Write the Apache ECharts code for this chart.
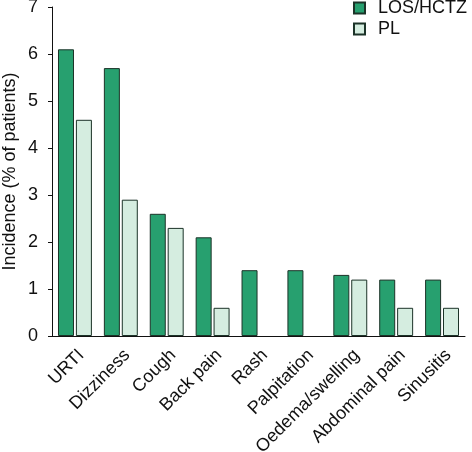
<!DOCTYPE html>
<html>
<head>
<meta charset="utf-8">
<script src="https://cdn.jsdelivr.net/npm/echarts@6/dist/echarts.min.js"></script>
<style>
html, body { margin: 0; padding: 0; background: #fff; }
#main { width: 472px; height: 452px; }
</style>
</head>
<body>
<div id="main"></div>
<script>
// categories and values
var categories = ['URTI', 'Dizziness', 'Cough', 'Back pain', 'Rash', 'Palpitation', 'Oedema/swelling', 'Abdominal pain', 'Sinusitis'];
var losHctz = [6.1, 5.7, 2.6, 2.1, 1.4, 1.4, 1.3, 1.2, 1.2];
var placebo = [4.6, 2.9, 2.3, 0.6, 0, 0, 1.2, 0.6, 0.6];
var yTicks = [0, 1, 2, 3, 4, 5, 6, 7];

var font = 'Liberation Sans, Arial, Helvetica, sans-serif';

// zero incidence: no bar drawn in the figure
function noZero(arr) {
    return arr.map(function (v) { return v === 0 ? '-' : v; });
}

var myChart = echarts.init(document.getElementById('main'));
var option = {
    animation: false,
    textStyle: { fontFamily: font },
    legend: {
        orient: 'vertical',
        right: 5,
        top: -1,
        padding: 0,
        itemWidth: 11,
        itemHeight: 11,
        itemGap: 3,
        icon: 'rect',
        textStyle: { fontSize: 18, color: '#111', fontFamily: font, padding: [0, 0, 0, 8] }
    },
    grid: {
        left: 52,
        right: 7,
        top: 7,
        bottom: 116,
        outerBoundsMode: 'none',
        containLabel: false
    },
    xAxis: {
        type: 'category',
        data: categories,
        axisLine: { show: true, lineStyle: { color: '#111', width: 1 } },
        axisTick: { show: false },
        axisLabel: {
            rotate: 45,
            interval: 0,
            margin: 10,
            fontSize: 18,
            color: '#111',
            verticalAlign: 'top',
            fontFamily: font
        }
    },
    yAxis: {
        type: 'value',
        min: yTicks[0],
        max: yTicks[yTicks.length - 1],
        interval: 1,
        name: 'Incidence (% of patients)',
        nameLocation: 'middle',
        nameGap: 33,
        nameMoveOverlap: false,
        nameTextStyle: { fontSize: 18, color: '#111', fontFamily: font },
        splitLine: { show: false },
        axisLine: { show: true, lineStyle: { color: '#111', width: 1 } },
        axisTick: { show: true, length: 4, lineStyle: { color: '#111' } },
        axisLabel: { fontSize: 18, color: '#111', margin: 14, fontFamily: font }
    },
    series: [{
        name: 'LOS/HCTZ',
        type: 'bar',
        data: noZero(losHctz),
        barWidth: 16,
        barGap: '12%',
        itemStyle: { color: '#27a06f', borderColor: '#1c3328', borderWidth: 1 }
    }, {
        name: 'PL',
        type: 'bar',
        data: noZero(placebo),
        barWidth: 16,
        barGap: '12%',
        itemStyle: { color: '#d5ede0', borderColor: '#1c3328', borderWidth: 1 }
    }]
};
myChart.setOption(option);
</script>
</body>
</html>
